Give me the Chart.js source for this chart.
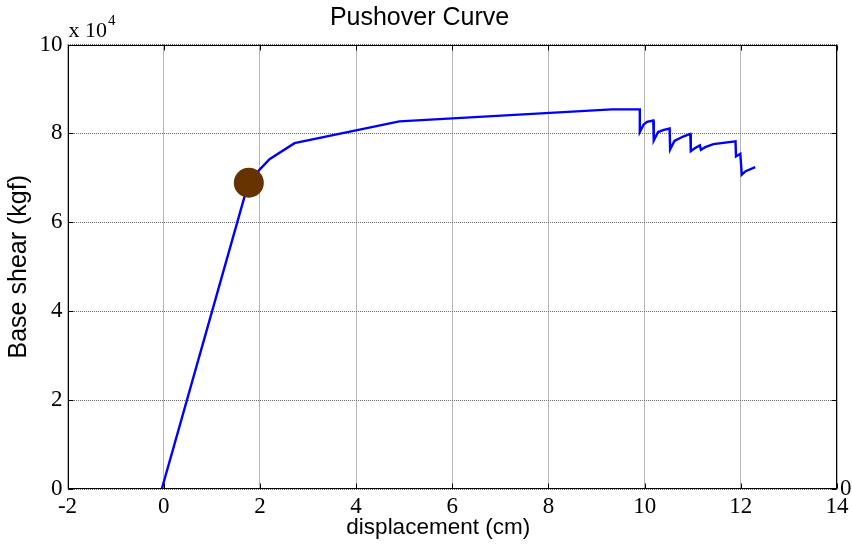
<!DOCTYPE html>
<html>
<head>
<meta charset="utf-8">
<script src="https://cdn.jsdelivr.net/npm/chart.js@4/dist/chart.umd.min.js"></script>
<style>
  html, body { margin: 0; padding: 0; background: #ffffff; }
  #wrap { width: 852px; height: 550px; }
</style>
</head>
<body>
<div id="wrap"><canvas id="chart" width="852" height="550"></canvas></div>
<script>
// Pushover curve: roof displacement (cm) vs. base shear (kgf)
const displacement = [
  -0.04, 1.76, 1.99, 2.20, 2.72, 4.90, 9.32, 9.90, 9.90, 9.98, 10.05, 10.18,
  10.19, 10.28, 10.40, 10.52, 10.53, 10.62, 10.80, 10.95, 10.96, 11.05, 11.15,
  11.17, 11.26, 11.43, 11.89, 11.90, 11.99, 12.02, 12.10, 12.30
];
const baseShear = [
  0, 68800, 71800, 74200, 77800, 82700, 85400, 85400, 80300, 82000, 82600, 82900,
  78400, 80300, 80800, 81100, 76400, 78300, 79300, 79900, 76000, 76700, 77300,
  76300, 76900, 77600, 78200, 74800, 75400, 70700, 71500, 72400
];
// Performance point marked on the curve
const perfDisplacement = [1.77];
const perfShear = [68900];

// Axis tick values
const xTicks = [-2, 0, 2, 4, 6, 8, 10, 12, 14];
const yTicks = [0, 20000, 40000, 60000, 80000, 100000];
const yExponent = 4;
const xAxisTitle = 'displacement (cm)';

const curvePoints = displacement.map((d, i) => ({ x: d, y: baseShear[i] }));
const perfPoints = perfDisplacement.map((d, i) => ({ x: d, y: perfShear[i] }));

const serif = '"Liberation Serif", "Times New Roman", serif';
const sans = '"Liberation Sans", Arial, sans-serif';

// Box frame, inward tick marks, x-axis title, exponent label and the stray right-hand label
const framePlugin = {
  id: 'frame',
  afterDraw(chart) {
    const { ctx, chartArea: a, scales } = chart;
    ctx.save();
    ctx.strokeStyle = '#000000';
    ctx.lineWidth = 1;
    const L = Math.round(a.left) + 0.5, R = Math.round(a.right) - 0.5;
    const T = Math.round(a.top) + 0.5, B = Math.round(a.bottom) - 0.5;
    ctx.strokeRect(L, T, R - L, B - T);
    const tl = 5;
    ctx.beginPath();
    xTicks.forEach(v => {
      const px = Math.round(scales.x.getPixelForValue(v)) + 0.5;
      ctx.moveTo(px, B); ctx.lineTo(px, B - tl);
      ctx.moveTo(px, T); ctx.lineTo(px, T + tl);
    });
    yTicks.forEach(v => {
      const py = Math.round(scales.y.getPixelForValue(v)) + 0.5;
      ctx.moveTo(L, py); ctx.lineTo(L + tl, py);
      ctx.moveTo(R, py); ctx.lineTo(R - tl, py);
    });
    ctx.stroke();

    ctx.fillStyle = '#000000';
    // x-axis title, sitting slightly left of the plot centre
    ctx.font = '22.5px ' + sans;
    ctx.textAlign = 'center';
    ctx.textBaseline = 'middle';
    ctx.fillText(xAxisTitle, (a.left + a.right) / 2 - 14, 528);

    ctx.textAlign = 'left';
    ctx.textBaseline = 'alphabetic';
    ctx.font = '22px ' + serif;
    ctx.fillText('x 10', a.left + 1, 37);
    const w = ctx.measureText('x 10').width;
    ctx.font = '15px ' + serif;
    ctx.fillText(String(yExponent), a.left + 2 + w, 25);

    ctx.font = '23px ' + serif;
    ctx.textBaseline = 'middle';
    ctx.fillText('0', a.right + 3, a.bottom);
    ctx.restore();
  }
};

const gridStyle = { color: '#6e6e6e', lineWidth: 1, drawTicks: false };

new Chart(document.getElementById('chart'), {
  type: 'scatter',
  data: {
    datasets: [
      {
        label: 'Performance point',
        data: perfPoints,
        order: 0,
        showLine: false,
        pointRadius: 15,
        pointHoverRadius: 15,
        pointBorderWidth: 0,
        backgroundColor: '#663300',
        borderColor: '#663300'
      },
      {
        label: 'Pushover curve',
        data: curvePoints,
        order: 1,
        showLine: true,
        borderColor: '#0000ff',
        backgroundColor: '#0000ff',
        borderWidth: 2.4,
        pointRadius: 0,
        pointHoverRadius: 0,
        tension: 0
      }
    ]
  },
  options: {
    responsive: false,
    animation: false,
    devicePixelRatio: 1,
    layout: { padding: { left: 0, right: 13, top: 0, bottom: 0 } },
    plugins: {
      legend: { display: false },
      tooltip: { enabled: false },
      title: {
        display: true,
        text: 'Pushover Curve',
        color: '#000000',
        font: { family: sans, size: 25, weight: 'normal', lineHeight: 1.2 },
        padding: { top: 3, bottom: 11.5 }
      }
    },
    scales: {
      x: {
        type: 'linear',
        min: -2,
        max: 14,
        afterBuildTicks(scale) { scale.ticks = xTicks.map(v => ({ value: v })); },
        afterFit(scale) {
          scale.height = 61;
          scale.paddingLeft = 0;
          scale.paddingRight = 0;
        },
        ticks: {
          color: '#000000',
          font: { family: serif, size: 23 },
          padding: 4,
          maxRotation: 0,
          autoSkip: false
        },
        grid: gridStyle,
        border: { display: false, dash: [1, 1] },
        title: { display: false }
      },
      y: {
        type: 'linear',
        min: 0,
        max: 100000,
        afterBuildTicks(scale) { scale.ticks = yTicks.map(v => ({ value: v })); },
        afterFit(scale) {
          scale.width = 67.5;
          scale.paddingTop = 0;
          scale.paddingBottom = 0;
        },
        ticks: {
          color: '#000000',
          font: { family: serif, size: 23 },
          padding: 5,
          autoSkip: false,
          callback: v => String(v / Math.pow(10, yExponent))
        },
        grid: gridStyle,
        border: { display: false, dash: [1, 1] },
        title: {
          display: true,
          text: 'Base shear (kgf)',
          color: '#000000',
          font: { family: sans, size: 25, weight: 'normal', lineHeight: 1.2 },
          padding: { top: 4, bottom: 0 }
        }
      }
    }
  },
  plugins: [framePlugin]
});
</script>
</body>
</html>
